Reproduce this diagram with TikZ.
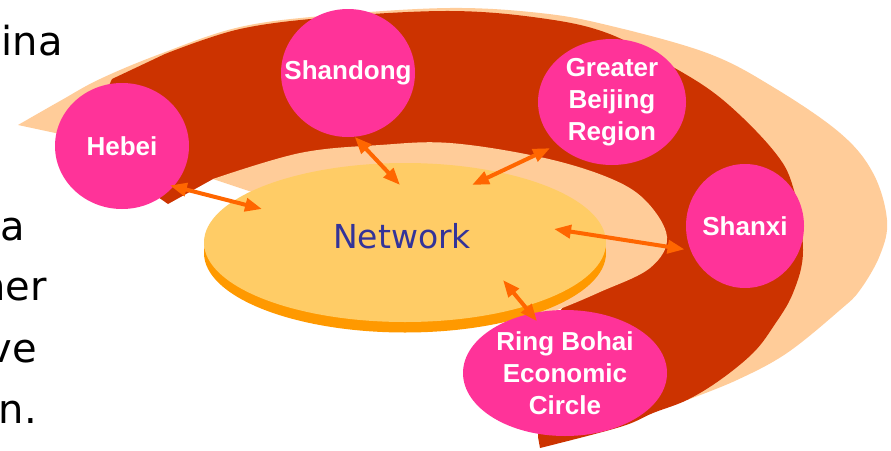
\documentclass[tikz,border=0pt]{standalone}
\usepackage{fontspec}
\setmainfont{DejaVu Sans}
\newfontfamily\regionfont{Liberation Sans}
\usetikzlibrary{shapes.geometric,arrows.meta}

\definecolor{peach}{HTML}{FFCC99}
\definecolor{brick}{HTML}{CC3300}
\definecolor{regionpink}{HTML}{FF3399}
\definecolor{netface}{HTML}{FFCC66}
\definecolor{netside}{HTML}{FF9900}
\definecolor{linkorange}{HTML}{FF6600}
\definecolor{netblue}{HTML}{333399}

\begin{document}
\begin{tikzpicture}[x=1pt,y=-1pt,
  region/.style={ellipse, fill=regionpink, text=white, inner xsep=-40pt, inner ysep=0pt,
    font=\regionfont\bfseries\fontsize{26}{32}\selectfont, align=center},
  netdisc/.style={ellipse, inner sep=0pt, minimum width=402pt, minimum height=159pt},
  nettext/.style={text=netblue, font=\fontsize{33}{40}\selectfont, inner sep=0pt},
  link/.style={draw=linkorange, line width=4pt,
    {Triangle[length=17pt,width=13pt]}-{Triangle[length=17pt,width=13pt]}},
  slidetext/.style={font=\fontsize{40}{48}\selectfont, anchor=base east, inner sep=0pt}]

\useasboundingbox (0,0) rectangle (891,450);
\fill[white] (0,0) rectangle (891,450);

% outer light swoosh
\fill[peach] plot[smooth, tension=0.6] coordinates {(18,125) (60,101) (100,79) (160,54)
  (240,27) (333,15) (450,8) (540,13) (607,25) (707,53) (773,87) (840,133) (873,173)
  (887,220) (880,255) (860,290) (840,310) (787,353) (737,380) (687,400)}
  -- (620,415) -- (560,420) -- (560,330) -- (600,250) -- (450,165) -- (250,160)
  -- (160,150) -- (60,134) -- cycle;

% dark spiral band
\fill[brick] (100,105) -- (112,79) -- plot[smooth, tension=0.6] coordinates {(165,54)
  (240,29) (333,17) (450,11) (540,18) (607,33) (673,67) (723,100) (773,150) (793,187)
  (803,250) (793,293) (773,327) (753,353) (720,380) (687,400) (653,413) (620,427) (540,448)}
  -- (538,437) -- (545,330) -- (600,260) -- (450,170) -- (300,168) -- (240,175)
  -- (213,179) -- (168,204) -- (158,197) -- cycle;

% inner light field
\fill[peach] plot[smooth, tension=0.6] coordinates {(213,179) (300,153) (380,145)
  (450,143) (540,157) (607,177) (645,200) (667,237) (650,268) (600,292) (557,310) (520,322)}
  -- (450,290) -- (300,220) -- (258,194) -- cycle;

% network disc
\node[netdisc, fill=netside] (netbase) at (405,253) {};
\node[netdisc, fill=netface] (net) at (405,242.5) {};
\node[nettext, anchor=base] (netlabel) at (402,248) {Network};

% regions
\node[region, minimum width=134pt, minimum height=126pt] (hebei) at (122,146) {Hebei};
\node[region, minimum width=134pt, minimum height=128pt] (shandong) at (348,73) {Shandong};
\node[region, minimum width=148pt, minimum height=126pt] (beijing) at (612,102) {Greater\\Beijing\\Region};
\node[region, minimum width=118pt, minimum height=124pt] (shanxi) at (745,226) {Shanxi};
\node[region, minimum width=204pt, minimum height=126pt] (ring) at (565,373) {Ring Bohai\\Economic\\Circle};

% link ends on the network disc
\coordinate (nh) at (262,209);
\coordinate (ns) at (400,185);
\coordinate (nb) at (472,185);
\coordinate (nx) at (554,229);
\coordinate (nr) at (503,280);

\draw[link, shorten <=-4pt] (hebei.-38) -- (nh);
\draw[link] (shandong.-84) -- (ns);
\draw[link, shorten <=8pt] (beijing.-142) -- (nb);
\draw[link, shorten <=6pt] (shanxi.-156) -- (nx);
\draw[link, shorten <=-10pt] (ring.120) -- (nr);

% slide text running in from the left
\node[slidetext] (t1) at (63,55) {ina};
\node[slidetext] (t2) at (25,240) {a};
\node[slidetext] (t3) at (47,300) {her};
\node[slidetext] (t4) at (37,362) {ve};
\node[slidetext] (t5) at (37,423) {n.};
\end{tikzpicture}
\end{document}
